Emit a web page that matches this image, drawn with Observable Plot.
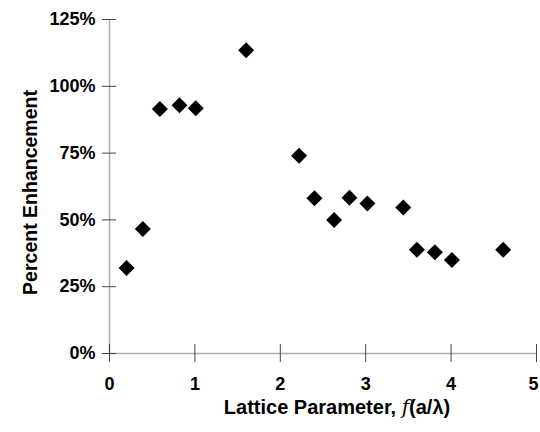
<!DOCTYPE html>
<html>
<head>
<meta charset="utf-8">
<script src="https://cdn.jsdelivr.net/npm/d3@7"></script>
<script src="https://cdn.jsdelivr.net/npm/@observablehq/plot@0.6"></script>
<style>
  html, body { margin: 0; padding: 0; background: #fff; }
  #chart svg { display: block; }
</style>
</head>
<body>
<div id="chart"></div>
<script>
const latticeParameter = [0.20, 0.39, 0.59, 0.82, 1.01, 1.60, 2.22, 2.40, 2.63, 2.81, 3.02, 3.44, 3.60, 3.81, 4.01, 4.61];
const percentEnhancement = [0.32, 0.466, 0.915, 0.929, 0.918, 1.135, 0.74, 0.581, 0.50, 0.583, 0.561, 0.546, 0.388, 0.379, 0.350, 0.388];
const xTicks = [0, 1, 2, 3, 4, 5];
const yTicks = [0, 0.25, 0.5, 0.75, 1.0, 1.25];

const data = latticeParameter.map((x, i) => ({x, y: percentEnhancement[i]}));
const font = "'Liberation Sans', Arial, sans-serif";
const lastX = xTicks[xTicks.length - 1];

const chart = Plot.plot({
  width: 540,
  height: 432,
  marginLeft: 109,
  marginRight: 4,
  marginTop: 19,
  marginBottom: 79,
  style: {fontFamily: font, fontSize: "18px", fontWeight: "bold", color: "#000", background: "#fff"},
  x: {domain: [0, 5]},
  y: {domain: [0, 1.25]},
  marks: [
    Plot.ruleX([0], {stroke: "#aaa", strokeWidth: 1.5}),
    Plot.ruleY([0], {stroke: "#aaa", strokeWidth: 1.5}),
    Plot.axisX({ticks: xTicks, tickSize: 18, dy: -9, text: null, stroke: "#444", label: null}),
    Plot.axisX({ticks: xTicks.slice(0, -1), tickSize: 0, tickPadding: 24, tickFormat: d3.format("d"), fill: "#000", label: null, fontSize: 18, fontWeight: "bold"}),
    Plot.axisX({ticks: [lastX], tickSize: 0, tickPadding: 24, dx: -3, tickFormat: d3.format("d"), fill: "#000", label: null, fontSize: 18, fontWeight: "bold"}),
    Plot.axisY({ticks: yTicks, tickSize: 14, dx: 7, text: null, stroke: "#444", label: null}),
    Plot.axisY({ticks: yTicks, tickSize: 0, tickPadding: 14, tickFormat: d3.format(".0%"), fill: "#000", label: null, fontSize: 18, fontWeight: "bold"}),
    Plot.dot(data, {x: "x", y: "y", symbol: "diamond2", r: 7.2, fill: "#000", stroke: "none"}),
    Plot.text(["Percent Enhancement"], {
      frameAnchor: "left", dx: -79, dy: 6, rotate: -90, text: d => d, textAnchor: "middle",
      fontSize: 19.5, fontWeight: "bold", fill: "#000"
    })
  ]
});

const svg = d3.select(chart);
// X axis label with italic f
const xl = svg.append("text")
  .attr("x", 337).attr("y", 414)
  .attr("text-anchor", "middle")
  .attr("font-family", font).attr("font-size", 20).attr("font-weight", "bold")
  .attr("fill", "#000");
xl.append("tspan").text("Lattice Parameter, ");
xl.append("tspan").attr("font-style", "italic").attr("font-family", "'DejaVu Serif', serif").attr("font-weight", "normal").text("f");
xl.append("tspan").text("(a/λ)");

document.getElementById("chart").appendChild(chart);
</script>
</body>
</html>
